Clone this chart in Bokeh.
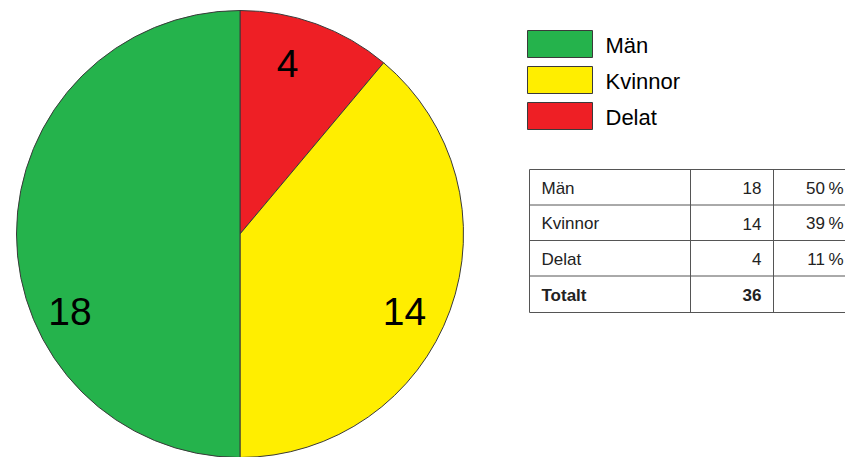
import numpy as np
from bokeh.plotting import figure
from bokeh.models import Range1d, ColumnDataSource
from bokeh.core.properties import value
from bokeh.embed import file_html
from bokeh.resources import INLINE

# Data
categories = ["Män", "Kvinnor", "Delat"]
counts = [18, 14, 4]
colors = ["#25b34c", "#ffee00", "#ee1f25"]
total_label = "Totalt"

W, H = 845, 457
FONT = "Liberation Sans"
EDGE = "#3a3a3a"


def Y(py):
    """Convert a top-down pixel row to the data y coordinate."""
    return H - py


p = figure(width=W, height=H, output_backend="svg", toolbar_location=None,
           x_range=Range1d(0, W), y_range=Range1d(0, H), min_border=0)
p.axis.visible = False
p.grid.visible = False
p.outline_line_color = None
p.background_fill_color = "white"
p.border_fill_color = "white"

# ---- Pie: drawn clockwise from 12 o'clock, Delat first, then Kvinnor, then Män
cx, cy, R = 239.5, Y(233.5), 223.5
order = [2, 1, 0]
total = sum(counts)
start = np.pi / 2
starts, ends, fills = [], [], []
for i in order:
    sweep = counts[i] / total * 2 * np.pi
    starts.append(start)
    ends.append(start - sweep)
    fills.append(colors[i])
    start -= sweep

pie = ColumnDataSource(dict(start=starts, end=ends, color=fills))
p.wedge(x=cx, y=cy, radius=R, start_angle="start", end_angle="end",
        direction="clock", fill_color="color", line_color=EDGE,
        line_width=1, source=pie)

# Slice labels (offsets from centre in pixels, x right / y down)
label_offsets = {"Män": (-170, 77.5), "Kvinnor": (164.5, 77.5), "Delat": (47.5, -170.5)}
lx = [cx + label_offsets[c][0] for c in categories]
ly = [cy - label_offsets[c][1] for c in categories]
p.text(x=lx, y=ly, text=[str(v) for v in counts], text_font=value(FONT),
       text_font_size="39px", text_align="center", text_baseline="middle",
       text_color="black")

# ---- Legend
box_x0, box_x1 = 527, 592
box_tops = [30, 66, 102]
box_h = 27
for c, col, top in zip(categories, colors, box_tops):
    p.quad(left=box_x0, right=box_x1, top=Y(top), bottom=Y(top + box_h),
           fill_color=col, line_color=EDGE, line_width=1)
p.text(x=[605] * 3, y=[Y(t + box_h / 2 + 1) for t in box_tops], text=categories,
       text_font=value(FONT), text_font_size="22px", text_align="left",
       text_baseline="middle", text_color="black")

# ---- Table
row_lines = [169, 204.5, 240, 275.5, 312]
col_lines = [529, 690, 773]
right = W + 5
p.segment(x0=[col_lines[0]] * len(row_lines), y0=[Y(r) for r in row_lines],
          x1=[right] * len(row_lines), y1=[Y(r) for r in row_lines],
          line_color="#555555", line_width=1)
p.segment(x0=col_lines, y0=[Y(row_lines[0])] * 3, x1=col_lines,
          y1=[Y(row_lines[-1])] * 3, line_color="#555555", line_width=1)

pcts = [f"{round(v / total * 100)}\u2009%" for v in counts]
row_mid = [Y((row_lines[k] + row_lines[k + 1]) / 2 + 1) for k in range(4)]

p.text(x=[541] * 3, y=row_mid[:3], text=categories, text_font=value(FONT),
       text_font_size="17px", text_align="left", text_baseline="middle",
       text_color="#222222")
p.text(x=[761] * 3, y=row_mid[:3], text=[str(v) for v in counts],
       text_font=value(FONT), text_font_size="17px", text_align="right",
       text_baseline="middle", text_color="#222222")
p.text(x=[843] * 3, y=row_mid[:3], text=pcts, text_font=value(FONT),
       text_font_size="17px", text_align="right", text_baseline="middle",
       text_color="#222222")
p.text(x=[541], y=[row_mid[3]], text=[total_label], text_font=value(FONT),
       text_font_size="17px", text_font_style="bold", text_align="left",
       text_baseline="middle", text_color="#222222")
p.text(x=[761], y=[row_mid[3]], text=[str(total)], text_font=value(FONT),
       text_font_size="17px", text_font_style="bold", text_align="right",
       text_baseline="middle", text_color="#222222")

open("out.html", "w").write(file_html(p, INLINE))
